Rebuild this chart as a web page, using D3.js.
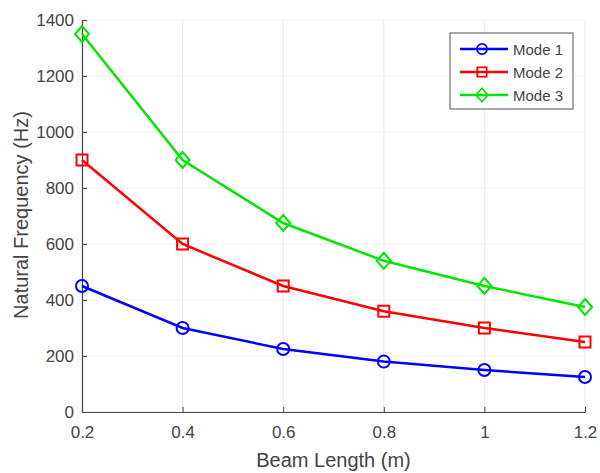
<html>
<head>
<style>
  body { margin: 0; background: #fff; }
  svg text { font-family: "Liberation Sans", Arial, sans-serif; }
</style>
</head>
<body>
<svg id="chart" width="600" height="473"></svg>
<script src="https://d3js.org/d3.v7.js"></script>
<script>
// beam lengths (m)
var lengths = [0.2, 0.4, 0.6, 0.8, 1.0, 1.2];
var mode1 = [450, 300, 225, 180, 150, 125];
var mode2 = [900, 600, 450, 360, 300, 250];
var mode3 = [1350, 900, 675, 540, 450, 375];
var seriesNames = ["Mode 1", "Mode 2", "Mode 3"];
var xTicks = [0.2, 0.4, 0.6, 0.8, 1, 1.2];
var yTicks = [0, 200, 400, 600, 800, 1000, 1200, 1400];

var colors = ["#0000ff", "#ff0000", "#00e600"];
var markers = ["circle", "square", "diamond"];

var margin = {top: 20, right: 15, bottom: 61, left: 82},
    width = 600 - margin.left - margin.right,
    height = 473 - margin.top - margin.bottom;

var svg = d3.select("#chart");
var g = svg.append("g")
  .attr("transform", "translate(" + margin.left + "," + margin.top + ")");

var x = d3.scaleLinear().domain([0.2, 1.2]).range([0, width]);
var y = d3.scaleLinear().domain([0, 1400]).range([height, 0]);

// grid
g.append("g").selectAll("line").data(xTicks).enter().append("line")
  .attr("x1", d => x(d)).attr("x2", d => x(d))
  .attr("y1", 0).attr("y2", height)
  .attr("stroke", "#ececec").attr("stroke-width", 1);
g.append("g").selectAll("line").data(yTicks).enter().append("line")
  .attr("x1", 0).attr("x2", width)
  .attr("y1", d => y(d)).attr("y2", d => y(d))
  .attr("stroke", "#ececec").attr("stroke-width", 1);

// axes
var xAxis = g.append("g")
  .attr("transform", "translate(0," + height + ")")
  .call(d3.axisBottom(x).tickValues(xTicks).tickSizeInner(-5).tickSizeOuter(0).tickPadding(14).tickFormat(d3.format("")));
var yAxis = g.append("g")
  .call(d3.axisLeft(y).tickValues(yTicks).tickSizeInner(-5).tickSizeOuter(0).tickPadding(8).tickFormat(d3.format("d")));

[xAxis, yAxis].forEach(function(ax) {
  ax.select(".domain").attr("stroke", "#444").attr("stroke-width", 1.2);
  ax.selectAll(".tick line").attr("stroke", "#444");
  ax.selectAll(".tick text").attr("fill", "#444").style("font-size", "17px");
});

// labels
g.append("text")
  .attr("x", width / 2).attr("y", height + 55)
  .attr("text-anchor", "middle")
  .attr("fill", "#444").style("font-size", "20px")
  .text("Beam Length (m)");
g.append("text")
  .attr("transform", "translate(-54," + (height / 2 - 1) + ") rotate(-90)")
  .attr("text-anchor", "middle")
  .attr("fill", "#444").style("font-size", "20px")
  .text("Natural Frequency (Hz)");

var allSeries = [mode1, mode2, mode3];

function drawMarker(sel, type, color) {
  if (type === "circle") {
    sel.append("circle").attr("r", 6);
  } else if (type === "square") {
    sel.append("rect").attr("x", -5.5).attr("y", -5.5).attr("width", 11).attr("height", 11);
  } else {
    sel.append("path").attr("d", "M0,-8L7,0L0,8L-7,0Z");
  }
  sel.selectAll("*").attr("fill", "none").attr("stroke", color).attr("stroke-width", 2);
}

var line = d3.line()
  .x(function(d, i) { return x(lengths[i]); })
  .y(function(d) { return y(d); });

allSeries.forEach(function(s, k) {
  g.append("path")
    .datum(s)
    .attr("d", line)
    .attr("fill", "none")
    .attr("stroke", colors[k])
    .attr("stroke-width", 2.5);
  s.forEach(function(v, i) {
    var m = g.append("g").attr("transform", "translate(" + x(lengths[i]) + "," + y(v) + ")");
    drawMarker(m, markers[k], colors[k]);
  });
});

// legend
var legend = svg.append("g").attr("transform", "translate(450,33)");
legend.append("rect")
  .attr("width", 123).attr("height", 76)
  .attr("fill", "#fff").attr("stroke", "#555").attr("stroke-width", 1);
seriesNames.forEach(function(name, k) {
  var row = legend.append("g").attr("transform", "translate(0," + (16 + k * 23) + ")");
  row.append("line").attr("x1", 10).attr("x2", 58)
    .attr("stroke", colors[k]).attr("stroke-width", 2.5);
  var m = row.append("g").attr("transform", "translate(32,0)");
  drawMarker(m, markers[k], colors[k]);
  m.selectAll("*").attr("transform", "scale(0.85)");
  row.append("text").attr("x", 63).attr("y", 5.5)
    .attr("fill", "#444").style("font-size", "15px")
    .text(name);
});
</script>
</body>
</html>
